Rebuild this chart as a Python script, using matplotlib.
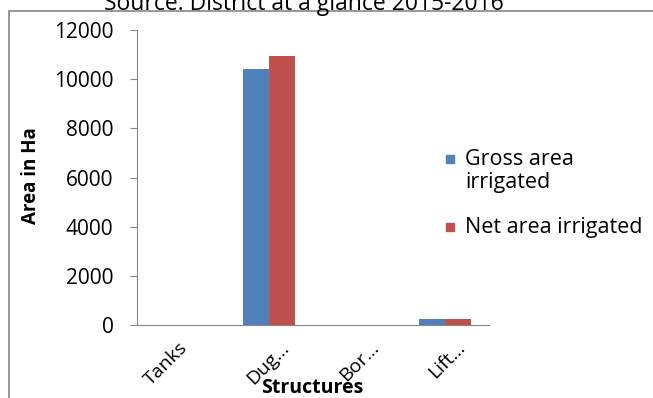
import numpy as np
import matplotlib.pyplot as plt
from matplotlib.patches import Rectangle
from matplotlib.transforms import ScaledTranslation

plt.rcParams['font.family'] = ['Open Sans', 'DejaVu Sans']

# Irrigation by structure type (ha)
structures = ['Tanks', 'Dug…', 'Bor…', 'Lift…']
gross_area = [0, 10400, 0, 250]
net_area = [0, 10950, 0, 250]
series_names = ['Gross area\nirrigated', 'Net area irrigated']
series_colors = ['#4f81bd', '#c0504d']

W, H = 653, 398
fig = plt.figure(figsize=(W / 100, H / 100), dpi=100)
ax = fig.add_axes([137 / W, 1 - 325 / H, 352 / W, 295 / H])

x = np.arange(len(structures))
w = 0.29
ax.bar(x - w/2, gross_area, w, color=series_colors[0])
ax.bar(x + w/2, net_area, w, color=series_colors[1])

ax.set_xlim(-0.5, len(structures) - 0.5)
ax.set_ylim(0, 12000)
ax.set_yticks(np.arange(0, 12001, 2000))
ax.set_xticks(x)
ax.set_xticklabels(structures, rotation=45, ha='right', rotation_mode='anchor', fontsize=14)
ax.tick_params(axis='x', length=0, pad=10)
ax.tick_params(axis='y', labelsize=15, length=5, color='#868686', pad=12)

# truncated labels sit a little further right than the full one
shifts = [-3, 11, 13, 11]
for lab, dx in zip(ax.get_xticklabels(), shifts):
    lab.set_transform(lab.get_transform() + ScaledTranslation(dx / 100, 0, fig.dpi_scale_trans))

for s in ['top', 'right']:
    ax.spines[s].set_visible(False)
for s in ['left', 'bottom']:
    ax.spines[s].set_color('#868686')

ax.set_ylabel('Area in Ha', fontsize=13.5, fontweight='bold', va='center')
ax.yaxis.set_label_coords(-0.3, 0.508)
ax.set_xlabel('Structures', fontsize=14, fontweight='bold', va='center')
ax.xaxis.set_label_coords(0.497, -0.214)

# legend drawn by hand so the square sits on the first text line
legend_rows = [159, 227]
for name, color, ypix in zip(series_names, series_colors, legend_rows):
    fig.add_artist(Rectangle((446 / W, 1 - (ypix + 4) / H), 8 / W, 8 / H,
                             transform=fig.transFigure, color=color))
    fig.text(465 / W, 1 - (ypix - 10) / H, name, ha='left', va='top',
             fontsize=15.5, linespacing=1.15)

# outer chart border
fig.add_artist(Rectangle((9 / W, -0.1), 1.1, (H - 11) / H + 0.1,
                         transform=fig.transFigure, fill=False,
                         edgecolor='#868686', linewidth=1.2))

fig.text(304 / W, 1 - 10 / H, 'Source: District at a glance 2015-2016',
         ha='center', va='baseline', fontsize=16.5)

fig.savefig('out.png', dpi=100)
